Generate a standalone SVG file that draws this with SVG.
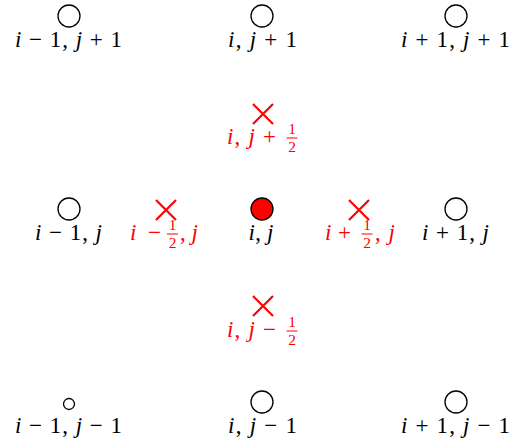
<svg xmlns="http://www.w3.org/2000/svg" width="511" height="443" viewBox="0 0 511 443">
<style>
.n{fill:#fff;stroke:#000;stroke-width:1.3}
.c{fill:#ff0000;stroke:#000;stroke-width:1.3}
.x{stroke:#ff0000;stroke-width:2.2;fill:none}
text{font-family:"Liberation Serif","Times New Roman",serif;font-size:23px}
.b{fill:#000}
.r{fill:#ff0000}
.i{font-style:italic}
.f{font-size:15.5px;text-anchor:middle}
.bar{stroke:#ff0000;stroke-width:1}
</style>
<rect width="511" height="443" fill="#fff"/>
<g id="n-im1-jp1"><circle class="n" cx="69" cy="16" r="11"/><text class="b" x="68.5" y="47" text-anchor="middle" textLength="107" lengthAdjust="spacing"><tspan class="i">i</tspan> − 1, <tspan class="i">j</tspan> + 1</text></g>
<g id="n-i-jp1"><circle class="n" cx="262" cy="16" r="11"/><text class="b" x="262.5" y="47" text-anchor="middle" textLength="69" lengthAdjust="spacing"><tspan class="i">i</tspan>, <tspan class="i">j</tspan> + 1</text></g>
<g id="n-ip1-jp1"><circle class="n" cx="456" cy="16" r="11"/><text class="b" x="455.5" y="47" text-anchor="middle" textLength="109" lengthAdjust="spacing"><tspan class="i">i</tspan> + 1, <tspan class="i">j</tspan> + 1</text></g>
<g id="n-im1-j"><circle class="n" cx="69" cy="209" r="11"/><text class="b" x="68.5" y="240" text-anchor="middle" textLength="67" lengthAdjust="spacing"><tspan class="i">i</tspan> − 1, <tspan class="i">j</tspan></text></g>
<g id="n-i-j"><circle class="c" cx="262" cy="209" r="11"/><text class="b" x="261" y="240" text-anchor="middle" textLength="25" lengthAdjust="spacing"><tspan class="i">i</tspan>, <tspan class="i">j</tspan></text></g>
<g id="n-ip1-j"><circle class="n" cx="456" cy="209" r="11"/><text class="b" x="455.5" y="240" text-anchor="middle" textLength="67" lengthAdjust="spacing"><tspan class="i">i</tspan> + 1, <tspan class="i">j</tspan></text></g>
<g id="n-im1-jm1"><circle class="n" cx="69" cy="404" r="5.5"/><text class="b" x="68.5" y="433" text-anchor="middle" textLength="107" lengthAdjust="spacing"><tspan class="i">i</tspan> − 1, <tspan class="i">j</tspan> − 1</text></g>
<g id="n-i-jm1"><circle class="n" cx="262" cy="402" r="11"/><text class="b" x="262.5" y="433" text-anchor="middle" textLength="69" lengthAdjust="spacing"><tspan class="i">i</tspan>, <tspan class="i">j</tspan> − 1</text></g>
<g id="n-ip1-jm1"><circle class="n" cx="456" cy="402" r="11"/><text class="b" x="455.5" y="433" text-anchor="middle" textLength="109" lengthAdjust="spacing"><tspan class="i">i</tspan> + 1, <tspan class="i">j</tspan> − 1</text></g>
<g id="f-i-jph"><path class="x" d="M253 104L273 124M273 104L253 124"/><text class="r" x="227" y="144" textLength="49" lengthAdjust="spacing"><tspan class="i">i</tspan>, <tspan class="i">j</tspan> +</text><text class="r f" x="292" y="134">1</text><line class="bar" x1="286.5" y1="138" x2="297.5" y2="138"/><text class="r f" x="292" y="152">2</text></g>
<g id="f-i-jmh"><path class="x" d="M253 296L273 316M273 296L253 316"/><text class="r" x="227" y="337" textLength="49" lengthAdjust="spacing"><tspan class="i">i</tspan>, <tspan class="i">j</tspan> −</text><text class="r f" x="292" y="327">1</text><line class="bar" x1="286.5" y1="331" x2="297.5" y2="331"/><text class="r f" x="292" y="345">2</text></g>
<g id="f-imh-j"><path class="x" d="M156 200L176 220M176 200L156 220"/><text class="r" x="130" y="240" textLength="31" lengthAdjust="spacing"><tspan class="i">i</tspan> −</text><text class="r f" x="172.5" y="230">1</text><line class="bar" x1="167" y1="234" x2="178" y2="234"/><text class="r f" x="172.5" y="248">2</text><text class="r" x="180" y="240" textLength="18" lengthAdjust="spacing">, <tspan class="i">j</tspan></text></g>
<g id="f-iph-j"><path class="x" d="M349 200L369 220M369 200L349 220"/><text class="r" x="325" y="240" textLength="26" lengthAdjust="spacing"><tspan class="i">i</tspan> +</text><text class="r f" x="367" y="230">1</text><line class="bar" x1="361.5" y1="234" x2="372.5" y2="234"/><text class="r f" x="367" y="248">2</text><text class="r" x="375" y="240" textLength="20" lengthAdjust="spacing">, <tspan class="i">j</tspan></text></g>
<g id="connectors"></g>
</svg>
